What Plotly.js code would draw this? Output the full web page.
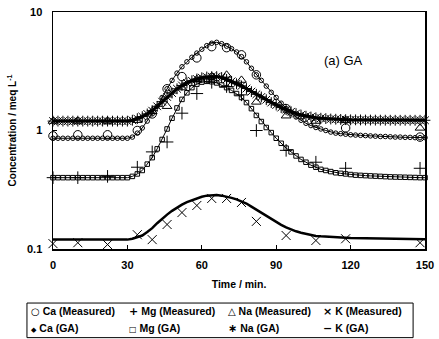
<!DOCTYPE html>
<html>
<head>
<meta charset="utf-8">
<script src="https://cdn.plot.ly/plotly-3.0.1.min.js"></script>
<style>html,body{margin:0;padding:0;background:#fff;}#chart{width:439px;height:339px;}</style>
</head>
<body>
<div id="chart"></div>
<script>
// Measured sampling times (min)
var tMeas = [0,10,22,34,40,46,52,58,64,70,76,82,94,106,118,148];
var caMeas = [0.9,0.92,0.92,1.0,1.38,2.25,2.85,4.1,5.1,5.0,4.35,2.95,1.53,1.16,1.05,0.88];
var mgMeas = [0.4,0.4,0.41,0.49,0.66,0.80,1.4,2.05,2.55,2.35,2.0,1.0,0.68,0.54,0.48,0.48];
var naMeas = [1.2,1.2,1.2,1.22,1.45,1.6,2.3,2.7,2.85,2.94,2.66,1.74,1.33,1.2,1.22,1.05];
var kMeas  = [0.111,0.113,0.109,0.132,0.12,0.161,0.203,0.233,0.267,0.267,0.247,0.171,0.13,0.118,0.122,0.113];

// GA model curves (t = 0..150, every 2 min)
var tGA = [0,2,4,6,8,10,12,14,16,18,20,22,24,26,28,30,
  32,34,36,38,40,42,44,46,48,50,52,54,56,58,60,62,64,66,68,70,
  72,74,76,78,80,82,84,86,88,90,92,94,96,98,100,102,104,106,108,110,
  112,114,116,118,120,122,124,126,128,130,132,134,136,138,140,142,144,146,148,150];
var caGA = [0.86,0.86,0.86,0.86,0.86,0.86,0.86,0.86,0.86,0.86,0.86,0.86,0.86,0.86,0.86,0.86,
  0.88,0.95,1.05,1.2,1.38,1.6,1.9,2.25,2.65,3.05,3.45,3.8,4.15,4.5,4.85,5.2,5.45,5.55,5.4,5.15,
  4.9,4.6,4.2,3.8,3.35,2.95,2.65,2.37,2.1,1.9,1.7,1.53,1.4,1.3,1.22,1.15,1.1,1.06,1.03,1.0,
  0.97,0.95,0.94,0.93,0.92,0.915,0.91,0.905,0.9,0.895,0.89,0.89,0.885,0.88,0.88,0.875,0.875,0.87,0.87,0.87];
var mgGA = [0.4,0.4,0.4,0.4,0.4,0.4,0.4,0.4,0.4,0.4,0.4,0.4,0.4,0.4,0.4,0.4,
  0.41,0.43,0.46,0.52,0.59,0.7,0.84,1.03,1.27,1.55,1.83,2.08,2.3,2.46,2.56,2.6,2.58,2.52,2.42,2.3,
  2.18,2.05,1.9,1.72,1.53,1.34,1.19,1.06,0.96,0.86,0.78,0.71,0.66,0.61,0.57,0.54,0.51,0.49,0.47,0.46,
  0.45,0.44,0.435,0.43,0.425,0.42,0.418,0.416,0.414,0.412,0.41,0.408,0.406,0.405,0.404,0.403,0.402,0.401,0.4,0.4];
var naGA = [1.2,1.2,1.2,1.2,1.2,1.2,1.2,1.2,1.2,1.2,1.2,1.2,1.2,1.2,1.2,1.2,
  1.22,1.26,1.31,1.38,1.47,1.6,1.75,1.92,2.07,2.25,2.4,2.52,2.63,2.72,2.79,2.83,2.85,2.85,2.8,2.7,
  2.6,2.48,2.38,2.26,2.13,2.02,1.92,1.82,1.72,1.64,1.56,1.5,1.44,1.39,1.35,1.32,1.3,1.28,1.27,1.26,
  1.25,1.245,1.24,1.235,1.23,1.23,1.228,1.226,1.225,1.224,1.223,1.222,1.221,1.22,1.22,1.22,1.22,1.22,1.22,1.22];
var kGA = [0.12,0.12,0.12,0.12,0.12,0.12,0.12,0.12,0.12,0.12,0.12,0.12,0.12,0.12,0.12,0.12,
  0.122,0.125,0.13,0.139,0.15,0.165,0.18,0.195,0.21,0.224,0.237,0.249,0.259,0.268,0.276,0.282,0.285,0.285,0.282,0.277,
  0.27,0.262,0.253,0.242,0.228,0.215,0.202,0.19,0.178,0.168,0.16,0.152,0.146,0.141,0.137,0.134,0.131,0.129,0.128,0.127,
  0.126,0.1255,0.125,0.1245,0.124,0.1238,0.1236,0.1234,0.1232,0.123,0.1228,0.1226,0.1224,0.1222,0.122,0.1218,0.1216,0.1214,0.1212,0.121];

var names = ['Ca (Measured)','Mg (Measured)','Na (Measured)','K (Measured)',
             'Ca (GA)','Mg (GA)','Na (GA)','K (GA)'];
var legendGlyphs = ['\u25CB','+','\u25B3','\u00D7','\u25C6','\u25A1','\u2217','\u2212'];
var yTicks = [0.1,1,10];
var yTickText = ['0.1','1','10'];
var xTicks = [0,30,60,90,120,150];

var FONT = 'Liberation Sans, Arial, sans-serif';
var blk = '#000';

function meas(y, name, sym, size){
  return {x:tMeas, y:y, name:name, type:'scatter', mode:'markers', cliponaxis:false,
    marker:{symbol:sym, size:size, color:blk, line:{color:blk, width:1}}};
}
function ga(y, name, sym, size, lw, mode){
  return {x:tGA, y:y, name:name, type:'scatter', mode:mode, cliponaxis:false,
    line:{color:blk, width:lw},
    marker:{symbol:sym, size:size, color:blk, line:{color:blk, width:1}}};
}

var data = [
  meas(caMeas, names[0], 'circle-open', 8.5),
  meas(mgMeas, names[1], 'cross-thin-open', 9),
  meas(naMeas, names[2], 'triangle-up-open', 8.5),
  meas(kMeas, names[3], 'x-thin-open', 9),
  ga(caGA, names[4], 'circle-open', 4.5, 1, 'lines+markers'),
  ga(mgGA, names[5], 'square-open', 4.5, 1, 'lines+markers'),
  ga(naGA, names[6], 'asterisk-open', 9, 3, 'lines+markers'),
  ga(kGA, names[7], 'line-ew-open', 6, 2.5, 'lines')
];

// manual compact legend (two rows of four), in paper coordinates
var colX = [-0.065, 0.198, 0.466, 0.72];
var rowY = [-0.262, -0.334];
var glyphSize = [10, 11, 10, 11, 7, 8, 11, 11];
var annotations = [{text:'(a) GA', xref:'paper', yref:'paper', x:0.84, y:0.835,
    showarrow:false, font:{family:FONT, size:13, color:blk, weight:'normal'}}];
for (var i = 0; i < names.length; i++) {
  annotations.push({
    text: '<span style="font-family:DejaVu Sans;font-size:' + glyphSize[i] + 'px">' + legendGlyphs[i] + '</span> ' + names[i],
    xref:'paper', yref:'paper', x: colX[i % 4], y: rowY[Math.floor(i / 4)],
    xanchor:'left', yanchor:'middle', showarrow:false,
    font:{family:FONT, size:10.5, color:blk, weight:'bold'}
  });
}

var layout = {
  width:439, height:339,
  margin:{l:53, r:14, t:12, b:90},
  paper_bgcolor:'#fff', plot_bgcolor:'#fff',
  font:{family:FONT, size:11, color:blk, weight:'bold'},
  showlegend:false,
  xaxis:{range:[0,150], tickvals:xTicks, ticks:'inside', ticklen:4, tickcolor:blk,
    showline:true, linecolor:blk, linewidth:1.5, mirror:true, showgrid:false, zeroline:false,
    ticklabelstandoff:5, automargin:false,
    tickfont:{family:FONT, size:11, weight:'bold'},
    title:{text:'Time / min.', font:{family:FONT, size:10.5, weight:'bold'}, standoff:11}},
  yaxis:{type:'log', range:[-1,1], tickvals:yTicks, ticktext:yTickText, ticks:'inside', ticklen:4, tickcolor:blk,
    showline:true, linecolor:blk, linewidth:1.5, mirror:true, showgrid:false, zeroline:false,
    ticklabelstandoff:7, automargin:false,
    tickfont:{family:FONT, size:11, weight:'bold'},
    title:{text:'Concentration / meq L<sup>-1</sup>', font:{family:FONT, size:10, weight:'bold'}, standoff:8}},
  shapes:[{type:'rect', xref:'paper', yref:'paper', x0:-0.07, x1:0.968, y0:-0.374, y1:-0.228,
    line:{color:blk, width:1}, fillcolor:'rgba(0,0,0,0)'}],
  annotations:annotations
};

Plotly.newPlot('chart', data, layout, {displayModeBar:false, staticPlot:true});
</script>
</body>
</html>
